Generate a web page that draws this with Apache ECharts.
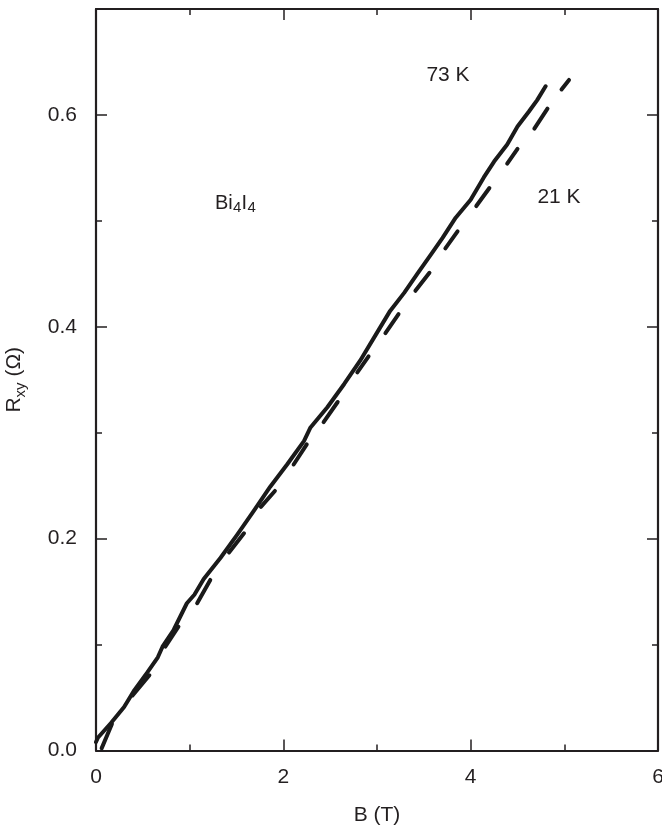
<!DOCTYPE html>
<html>
<head>
    <meta charset="UTF-8">
    <title>Bi4I4 Hall resistance</title>
    <script src="https://cdn.jsdelivr.net/npm/echarts@6/dist/echarts.min.js"></script>
    <style>
        html, body { margin: 0; padding: 0; background: #fff; }
    </style>
</head>
<body>
    <div id="main" style="width: 662px;height:828px;"></div>
    <script>
        // 73 K curve (continuous)
        var b73 = [0.0, 0.02, 0.16, 0.30, 0.41, 0.55, 0.66, 0.71, 0.83, 0.97, 1.05, 1.15, 1.33, 1.51, 1.69, 1.86, 2.04, 2.22, 2.29, 2.47, 2.65, 2.82, 2.97, 3.14, 3.29, 3.43, 3.59, 3.70, 3.84, 4.00, 4.14, 4.25, 4.39, 4.50, 4.62, 4.71, 4.80];
        var r73 = [0.008, 0.012, 0.026, 0.041, 0.057, 0.074, 0.088, 0.098, 0.114, 0.139, 0.147, 0.162, 0.182, 0.204, 0.227, 0.249, 0.270, 0.292, 0.305, 0.324, 0.346, 0.368, 0.390, 0.415, 0.432, 0.450, 0.470, 0.484, 0.503, 0.520, 0.541, 0.556, 0.572, 0.589, 0.603, 0.614, 0.627];

        // 21 K curve, drawn as short pieces (start / end of each piece)
        var b21Start = [0.06, 0.39, 0.74, 1.08, 1.42, 1.76, 2.11, 2.43, 2.79, 3.09, 3.41, 3.73, 4.06, 4.39, 4.68, 4.97];
        var r21Start = [0.002, 0.052, 0.098, 0.139, 0.187, 0.230, 0.270, 0.310, 0.357, 0.394, 0.434, 0.474, 0.514, 0.554, 0.587, 0.624];
        var b21End = [0.17, 0.57, 0.88, 1.22, 1.58, 1.91, 2.25, 2.58, 2.91, 3.23, 3.56, 3.86, 4.20, 4.50, 4.82, 5.05];
        var r21End = [0.025, 0.071, 0.117, 0.161, 0.205, 0.245, 0.289, 0.329, 0.372, 0.412, 0.451, 0.490, 0.531, 0.568, 0.606, 0.633];

        var xTicks = [0, 2, 4, 6];
        var yTicks = [0.0, 0.2, 0.4, 0.6];

        var data73 = b73.map(function (b, i) { return [b, r73[i]]; });
        var data21 = [];
        for (var i = 0; i < b21Start.length; i++) {
            data21.push([b21Start[i], r21Start[i]]);
            data21.push([b21End[i], r21End[i]]);
            data21.push([null, null]);
        }

        var FONT = 'Liberation Sans, Arial, sans-serif';
        var INK = '#231f20';
        var FS = 21;

        function frameAxis(extra) {
            var base = {
                axisLine: { show: true, onZero: false, lineStyle: { color: INK, width: 2.2 } },
                axisTick: { show: true, inside: true, length: 11, lineStyle: { color: INK, width: 1.5 } },
                minorTick: { show: true, splitNumber: 2, length: 6, lineStyle: { color: INK, width: 1.5 } },
                splitLine: { show: false },
                minorSplitLine: { show: false }
            };
            for (var k in extra) base[k] = extra[k];
            return base;
        }

        function txt(x, y, s, size) {
            return {
                type: 'text', x: x, y: y,
                style: { text: s, fontFamily: FONT, fontSize: size, fill: INK, align: 'left', verticalAlign: 'middle' }
            };
        }

        var chart = echarts.init(document.getElementById('main'));
        chart.setOption({
            backgroundColor: '#fff',
            animation: false,
            grid: { left: 96, right: 4, top: 9, bottom: 77.5, containLabel: false, outerBoundsMode: 'none' },
            xAxis: [
                frameAxis({
                    type: 'value', position: 'bottom', min: xTicks[0], max: xTicks[xTicks.length - 1], interval: 2,
                    name: 'B (T)', nameLocation: 'middle', nameGap: 54,
                    nameTextStyle: { fontFamily: FONT, fontSize: FS, color: INK },
                    axisLabel: { margin: 16, fontFamily: FONT, fontSize: FS, color: INK }
                }),
                frameAxis({
                    type: 'value', position: 'top', min: xTicks[0], max: xTicks[xTicks.length - 1], interval: 2,
                    axisLabel: { show: false }
                })
            ],
            yAxis: [
                frameAxis({
                    type: 'value', position: 'left', min: yTicks[0], max: 0.7, interval: 0.2,
                    name: '{n|R}{s|xy}{n| (Ω)}', nameLocation: 'middle', nameGap: 68,
                    nameTextStyle: {
                        fontFamily: FONT, color: INK,
                        rich: {
                            n: { fontFamily: FONT, fontSize: FS, color: INK },
                            s: { fontFamily: FONT, fontSize: 15, color: INK, verticalAlign: 'bottom', padding: [12, 0, 0, 0] }
                        }
                    },
                    axisLabel: {
                        margin: 19, fontFamily: FONT, fontSize: FS, color: INK,
                        formatter: function (v) { return (Math.abs(v - 0.7) < 1e-6) ? '' : v.toFixed(1); }
                    }
                }),
                frameAxis({
                    type: 'value', position: 'right', min: yTicks[0], max: 0.7, interval: 0.2,
                    axisLabel: { show: false }
                })
            ],
            graphic: [
                {
                    type: 'text', x: 448, y: 75,
                    style: { text: '73 K', fontFamily: FONT, fontSize: FS, fill: INK, align: 'center', verticalAlign: 'middle' }
                },
                {
                    type: 'text', x: 559, y: 197,
                    style: { text: '21 K', fontFamily: FONT, fontSize: FS, fill: INK, align: 'center', verticalAlign: 'middle' }
                },
                // Bi4I4 with subscripts
                txt(215, 203, 'Bi', 20),
                txt(233, 208, '4', 15),
                txt(241.5, 203, 'I', 20),
                txt(247.5, 208, '4', 15)
            ],
            series: [
                {
                    name: '73 K', type: 'line', data: data73, showSymbol: false, smooth: false,
                    lineStyle: { color: '#1a1a1a', width: 4, cap: 'round', join: 'round' }
                },
                {
                    name: '21 K', type: 'line', data: data21, showSymbol: false, connectNulls: false,
                    lineStyle: { color: '#1a1a1a', width: 4, cap: 'round', join: 'round' }
                }
            ]
        });
    </script>
</body>
</html>
